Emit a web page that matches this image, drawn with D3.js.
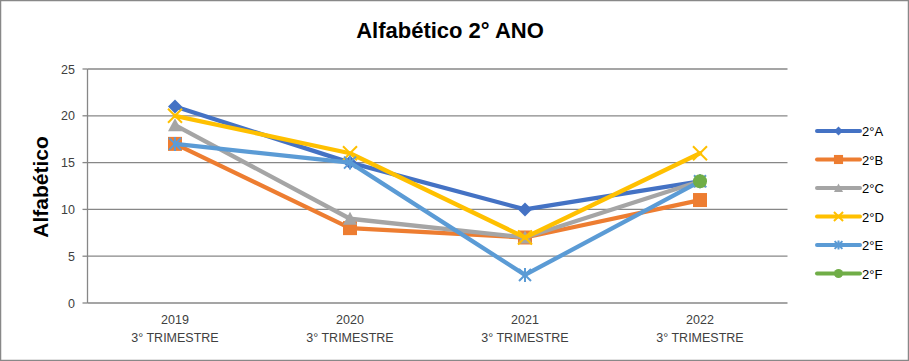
<!DOCTYPE html>
<html><head><meta charset="utf-8">
<script src="https://cdn.jsdelivr.net/npm/d3@7"></script>
<style>body{margin:0;background:#fff}svg{display:block}text{font-family:"Liberation Sans",Arial,sans-serif}</style>
</head><body><svg id="c" width="909" height="361"></svg>
<script>
const years = ["2019","2020","2021","2022"];
const subLabel = "3° TRIMESTRE";
const seriesNames = ["2°A","2°B","2°C","2°D","2°E","2°F"];
const sA = [21,15,10,13];
const sB = [17,8,7,11];
const sC = [19,9,7,13];
const sD = [20,16,7,16];
const sE = [17,15,3,13];
const sF = [null,null,null,13];
const yTicks = [0,5,10,15,20,25];
const colors = ["#4472C4","#ED7D31","#A5A5A5","#FFC000","#5B9BD5","#70AD47"];
const markers = ["diamond","square","triangle","x","star","circle"];
const allSeries = [sA,sB,sC,sD,sE,sF];

const svg = d3.select("#c");
svg.append("rect").attr("x",0.5).attr("y",0.5).attr("width",908).attr("height",360)
  .attr("fill","#fff").attr("stroke","#888").attr("stroke-width",1.5);

const L=87.5,R=787.5,T=69,B=303;
const x = d3.scaleBand().domain(years).range([L,R]);
const y = d3.scaleLinear().domain([0,25]).range([B,T]);

// gridlines
svg.append("g").selectAll("line").data(yTicks).join("line")
  .attr("x1",L).attr("x2",R).attr("y1",d=>y(d)).attr("y2",d=>y(d))
  .attr("stroke","#878787").attr("stroke-width",1.3);
svg.append("line").attr("x1",L).attr("x2",L).attr("y1",T).attr("y2",B).attr("stroke","#878787").attr("stroke-width",1.3);
svg.append("g").selectAll("line").data(yTicks).join("line")
  .attr("x1",L-5).attr("x2",L).attr("y1",d=>y(d)).attr("y2",d=>y(d))
  .attr("stroke","#878787").attr("stroke-width",1.3);
svg.append("g").selectAll("text").data(yTicks).join("text")
  .attr("x",75).attr("y",d=>y(d)+4.5).attr("text-anchor","end")
  .attr("font-size",12.5).attr("fill","#404040").text(d=>d);

// x labels
const xl = svg.append("g").selectAll("g").data(years).join("g");
xl.append("text").attr("x",d=>x(d)+x.bandwidth()/2).attr("y",324).attr("text-anchor","middle")
  .attr("font-size",12.5).attr("fill","#404040").text(d=>d);
xl.append("text").attr("x",d=>x(d)+x.bandwidth()/2).attr("y",342).attr("text-anchor","middle")
  .attr("font-size",12.5).attr("fill","#404040").text(subLabel);

// titles
svg.append("text").attr("x",450).attr("y",38).attr("text-anchor","middle")
  .attr("font-size",22).attr("font-weight","bold").attr("fill","#000").text("Alfabético 2° ANO");
svg.append("text").attr("transform","translate(48,187) rotate(-90)").attr("text-anchor","middle")
  .attr("font-size",21).attr("font-weight","bold").attr("fill","#000").text("Alfabético");

function drawMarker(g,type,cx,cy,color,s){
  s = s||1;
  if(type==="diamond"){
    g.append("path").attr("d",`M${cx},${cy-7*s}L${cx+7*s},${cy}L${cx},${cy+7*s}L${cx-7*s},${cy}Z`).attr("fill",color);
  } else if(type==="square"){
    g.append("rect").attr("x",cx-7*s).attr("y",cy-7*s).attr("width",14*s).attr("height",14*s).attr("fill",color);
  } else if(type==="triangle"){
    g.append("path").attr("d",`M${cx},${cy-7*s}L${cx+7*s},${cy+6*s}L${cx-7*s},${cy+6*s}Z`).attr("fill",color);
  } else if(type==="x"){
    g.append("path").attr("d",`M${cx-7*s},${cy-7*s}L${cx+7*s},${cy+7*s}M${cx+7*s},${cy-7*s}L${cx-7*s},${cy+7*s}`).attr("stroke",color).attr("stroke-width",2);
  } else if(type==="star"){
    g.append("path").attr("d",`M${cx-6*s},${cy-6*s}L${cx+6*s},${cy+6*s}M${cx+6*s},${cy-6*s}L${cx-6*s},${cy+6*s}M${cx},${cy-7*s}L${cx},${cy+7*s}`).attr("stroke",color).attr("stroke-width",2);
  } else if(type==="circle"){
    g.append("circle").attr("cx",cx).attr("cy",cy).attr("r",7*s).attr("fill",color);
  }
}

const line = d3.line().defined(d=>d.v!=null).x(d=>x(d.k)+x.bandwidth()/2).y(d=>y(d.v));
allSeries.forEach((vals,i)=>{
  const g = svg.append("g");
  const pts = years.map((k,j)=>({k,v:vals[j]}));
  g.append("path").attr("d",line(pts)).attr("fill","none").attr("stroke",colors[i])
    .attr("stroke-width",4.3).attr("stroke-linejoin","round").attr("stroke-linecap","round");
  pts.filter(p=>p.v!=null).forEach(p=>drawMarker(g,markers[i],x(p.k)+x.bandwidth()/2,y(p.v),colors[i]));
});

// legend
const lg = svg.append("g");
seriesNames.forEach((n,i)=>{
  const yy = 131 + i*28.5;
  const g = lg.append("g");
  g.append("line").attr("x1",817).attr("x2",860).attr("y1",yy).attr("y2",yy)
    .attr("stroke",colors[i]).attr("stroke-width",4).attr("stroke-linecap","round");
  drawMarker(g,markers[i],838.5,yy,colors[i],0.65);
  g.append("text").attr("x",862).attr("y",yy+5).attr("font-size",13).attr("fill","#000").text(n);
});
</script></body></html>
